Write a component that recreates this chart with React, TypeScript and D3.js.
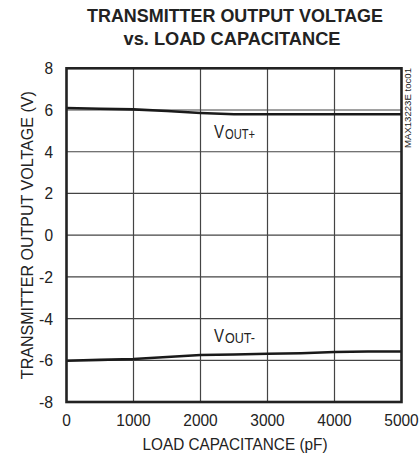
import React, { useEffect } from "react";
import * as d3 from "d3";

const capacitance = [0, 500, 1000, 1500, 2000, 2500, 3000, 3500, 4000, 4500, 5000];
const voutPos = [6.1, 6.06, 6.03, 5.95, 5.86, 5.8, 5.8, 5.8, 5.8, 5.8, 5.8];
const voutNeg = [-6.02, -5.98, -5.94, -5.84, -5.75, -5.72, -5.69, -5.66, -5.6, -5.58, -5.58];
const xTicks = [0, 1000, 2000, 3000, 4000, 5000];
const yTicks = [8, 6, 4, 2, 0, -2, -4, -6, -8];
const seriesLabels = ["OUT+", "OUT-"];

const FONT = "'Liberation Sans', Arial, sans-serif";

// narrow-looking text: width from digit count
function numWidth(s: string) {
  let w = 0;
  for (const c of s) w += c === "-" ? 5.5 : 8.6;
  return w;
}

export default function App() {
  const svgRef = React.useRef(null);
  const width = 420;
  const height = 468;

  useEffect(() => {
    const svg = d3.select(svgRef.current);
    svg.selectAll("*").remove();

    const left = 66.5,
      right = 401.5,
      top = 68.3,
      bottom = 402;
    const x = d3.scaleLinear().domain([0, 5000]).range([left, right]);
    const y = d3.scaleLinear().domain([-8, 8]).range([bottom, top]);

    // title
    svg
      .append("text")
      .attr("x", 235)
      .attr("y", 22)
      .attr("text-anchor", "middle")
      .attr("font-family", FONT)
      .attr("font-weight", "bold")
      .attr("font-size", 18)
      .attr("textLength", 296)
      .attr("lengthAdjust", "spacingAndGlyphs")
      .attr("fill", "#222")
      .text("TRANSMITTER OUTPUT VOLTAGE");
    svg
      .append("text")
      .attr("x", 232)
      .attr("y", 45)
      .attr("text-anchor", "middle")
      .attr("font-family", FONT)
      .attr("font-weight", "bold")
      .attr("font-size", 18)
      .attr("textLength", 217)
      .attr("lengthAdjust", "spacingAndGlyphs")
      .attr("fill", "#222")
      .text("vs. LOAD CAPACITANCE");

    // grid
    svg
      .append("g")
      .selectAll("line")
      .data(xTicks.slice(1, -1))
      .enter()
      .append("line")
      .attr("x1", (d) => x(d))
      .attr("x2", (d) => x(d))
      .attr("y1", top)
      .attr("y2", bottom)
      .attr("stroke", "#444")
      .attr("stroke-width", 1.2);
    svg
      .append("g")
      .selectAll("line")
      .data(yTicks.slice(1, -1))
      .enter()
      .append("line")
      .attr("x1", left)
      .attr("x2", right)
      .attr("y1", (d) => y(d))
      .attr("y2", (d) => y(d))
      .attr("stroke", "#444")
      .attr("stroke-width", 1.2);

    // data lines
    const line = d3
      .line<number>()
      .x((d, i) => x(capacitance[i]))
      .y((d) => y(d));
    [voutPos, voutNeg].forEach((s) => {
      svg
        .append("path")
        .attr("d", line(s))
        .attr("fill", "none")
        .attr("stroke", "#1a1a1a")
        .attr("stroke-width", 2.6);
    });

    // frame
    svg
      .append("rect")
      .attr("x", left)
      .attr("y", top)
      .attr("width", right - left)
      .attr("height", bottom - top)
      .attr("fill", "none")
      .attr("stroke", "#222")
      .attr("stroke-width", 2.6);

    // tick labels
    svg
      .append("g")
      .selectAll("text")
      .data(yTicks)
      .enter()
      .append("text")
      .attr("x", 53)
      .attr("y", (d) => y(d) + 6)
      .attr("text-anchor", "end")
      .attr("font-family", FONT)
      .attr("font-size", 16)
      .attr("textLength", (d) => numWidth(String(d)))
      .attr("lengthAdjust", "spacingAndGlyphs")
      .attr("fill", "#222")
      .text((d) => String(d));
    svg
      .append("g")
      .selectAll("text")
      .data(xTicks)
      .enter()
      .append("text")
      .attr("x", (d) => x(d))
      .attr("y", 426)
      .attr("text-anchor", "middle")
      .attr("font-family", FONT)
      .attr("font-size", 16)
      .attr("textLength", (d) => numWidth(String(d)))
      .attr("lengthAdjust", "spacingAndGlyphs")
      .attr("fill", "#222")
      .text((d) => String(d));

    // axis titles
    svg
      .append("text")
      .attr("x", 235)
      .attr("y", 450)
      .attr("text-anchor", "middle")
      .attr("font-family", FONT)
      .attr("font-size", 17)
      .attr("textLength", 185)
      .attr("lengthAdjust", "spacingAndGlyphs")
      .attr("fill", "#222")
      .text("LOAD CAPACITANCE (pF)");
    svg
      .append("text")
      .attr("transform", "translate(33," + (top + bottom) / 2 + ") rotate(-90)")
      .attr("text-anchor", "middle")
      .attr("font-family", FONT)
      .attr("font-size", 17)
      .attr("textLength", 288)
      .attr("lengthAdjust", "spacingAndGlyphs")
      .attr("fill", "#222")
      .text("TRANSMITTER OUTPUT VOLTAGE (V)");

    // side note
    svg
      .append("text")
      .attr("transform", "translate(411,68) rotate(-90)")
      .attr("text-anchor", "end")
      .attr("font-family", FONT)
      .attr("font-size", 9)
      .attr("textLength", 80)
      .attr("lengthAdjust", "spacingAndGlyphs")
      .attr("fill", "#222")
      .text("MAX13223E toc01");

    // series labels: "V" with smaller "OUT±"
    const labelY = [138, 342];
    seriesLabels.forEach((sub, i) => {
      svg
        .append("text")
        .attr("x", 214)
        .attr("y", labelY[i])
        .attr("font-family", FONT)
        .attr("font-size", 18)
        .attr("textLength", 10)
        .attr("lengthAdjust", "spacingAndGlyphs")
        .attr("fill", "#222")
        .text("V");
      svg
        .append("text")
        .attr("x", 225)
        .attr("y", labelY[i] + 1)
        .attr("font-family", FONT)
        .attr("font-size", 14)
        .attr("textLength", 30)
        .attr("lengthAdjust", "spacingAndGlyphs")
        .attr("fill", "#222")
        .text(sub);
    });
  }, []);

  return (
    <svg
      ref={svgRef}
      width={width}
      height={height}
      style={{ position: "absolute", left: 0, top: 0, display: "block" }}
    />
  );
}
